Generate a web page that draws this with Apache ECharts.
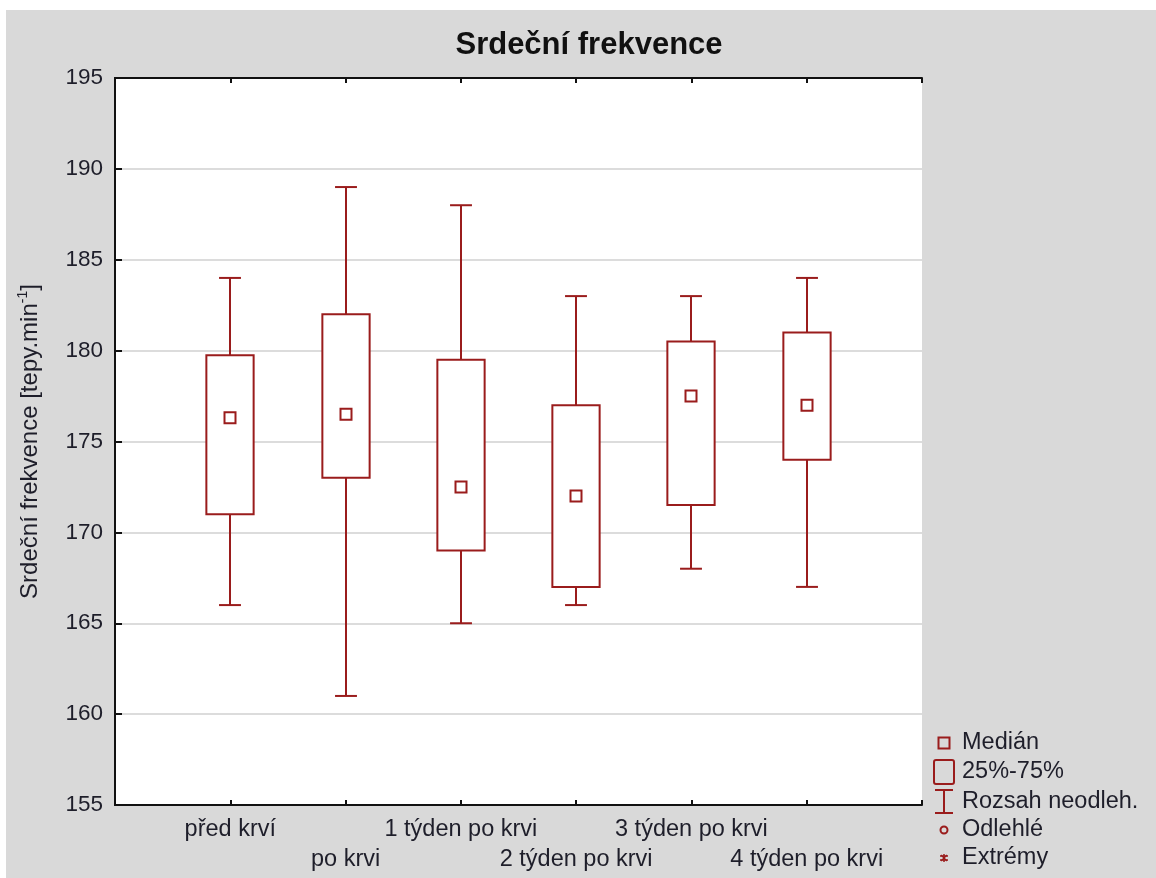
<!DOCTYPE html>
<html>
<head>
<meta charset="utf-8">
<title>Srdeční frekvence</title>
<script src="https://cdn.jsdelivr.net/npm/echarts@6/dist/echarts.min.js"></script>
<style>
  html, body { margin: 0; padding: 0; background: #ffffff; }
  #chart { position: absolute; left: 6px; top: 10px; width: 1150px; height: 868px; }
</style>
</head>
<body>
<div id="chart"></div>
<script>
// Heart-rate measurements, box summary per time point
const categories = ['před krví', 'po krvi', '1 týden po krvi', '2 týden po krvi', '3 týden po krvi', '4 týden po krvi'];
const whiskerLow  = [166, 161, 165, 166, 168, 167];
const quartile1   = [171, 173, 169, 167, 171.5, 174];
const medians     = [176.3, 176.5, 172.5, 172, 177.5, 177];
const quartile3   = [179.75, 182, 179.5, 177, 180.5, 181];
const whiskerHigh = [184, 189, 188, 183, 183, 184];
const yTicks = [155, 160, 165, 170, 175, 180, 185, 190, 195];

const BOX = '#9a1c1c';
const TEXT = '#1e1e2a';
const FRAME = '#111111';
const FONT = 'Arial, "Liberation Sans", sans-serif';

const boxData = categories.map((c, i) => [i + 1, whiskerLow[i], quartile1[i], medians[i], quartile3[i], whiskerHigh[i]]);

function renderBox(params, api) {
  const x = api.value(0);
  const lo = api.coord([x, api.value(1)]);
  const q1 = api.coord([x, api.value(2)]);
  const md = api.coord([x, api.value(3)]);
  const q3 = api.coord([x, api.value(4)]);
  const hi = api.coord([x, api.value(5)]);
  const unit = api.size([1, 0])[0];
  const bw = unit * 0.41;
  const cw = unit * 0.19;
  const cx = Math.round(lo[0]);
  const line = { stroke: BOX, lineWidth: 2 };
  const ms = 11;
  return {
    type: 'group',
    children: [
      { type: 'line', shape: { x1: cx, y1: hi[1], x2: cx, y2: q3[1] }, style: line },
      { type: 'line', shape: { x1: cx, y1: q1[1], x2: cx, y2: lo[1] }, style: line },
      { type: 'line', shape: { x1: cx - cw / 2, y1: hi[1], x2: cx + cw / 2, y2: hi[1] }, style: line },
      { type: 'line', shape: { x1: cx - cw / 2, y1: lo[1], x2: cx + cw / 2, y2: lo[1] }, style: line },
      { type: 'rect', shape: { x: cx - bw / 2, y: q3[1], width: bw, height: q1[1] - q3[1] },
        style: { stroke: BOX, lineWidth: 2, fill: '#ffffff' } },
      { type: 'rect', shape: { x: cx - ms / 2, y: md[1] - ms / 2, width: ms, height: ms },
        style: { stroke: BOX, lineWidth: 2, fill: '#ffffff' } }
    ]
  };
}

// Legend glyphs and captions, placed beside the plot's lower right corner
const LX = 938;
const legendText = ['Medián', '25%-75%', 'Rozsah neodleh.', 'Odlehlé', 'Extrémy'];
const legendY = [733, 762, 792, 820, 848];
const legendGraphics = [
  { type: 'rect', shape: { x: LX - 5.5, y: legendY[0] - 5.5, width: 11, height: 11 },
    style: { stroke: BOX, lineWidth: 2, fill: 'transparent' } },
  { type: 'rect', shape: { x: LX - 10, y: legendY[1] - 12, width: 20, height: 24, r: 2 },
    style: { stroke: BOX, lineWidth: 2, fill: 'transparent' } },
  { type: 'line', shape: { x1: LX, y1: legendY[2] - 12, x2: LX, y2: legendY[2] + 11 }, style: { stroke: BOX, lineWidth: 2 } },
  { type: 'line', shape: { x1: LX - 9, y1: legendY[2] - 12, x2: LX + 9, y2: legendY[2] - 12 }, style: { stroke: BOX, lineWidth: 2 } },
  { type: 'line', shape: { x1: LX - 9, y1: legendY[2] + 11, x2: LX + 9, y2: legendY[2] + 11 }, style: { stroke: BOX, lineWidth: 2 } },
  { type: 'circle', shape: { cx: LX, cy: legendY[3], r: 3.5 }, style: { stroke: BOX, lineWidth: 2, fill: 'transparent' } },
  { type: 'line', shape: { x1: LX, y1: legendY[4] - 4, x2: LX, y2: legendY[4] + 4 }, style: { stroke: BOX, lineWidth: 1.5 } },
  { type: 'line', shape: { x1: LX - 4, y1: legendY[4] - 2, x2: LX + 4, y2: legendY[4] - 2 }, style: { stroke: BOX, lineWidth: 1.5 } },
  { type: 'line', shape: { x1: LX - 4, y1: legendY[4] + 2, x2: LX + 4, y2: legendY[4] + 2 }, style: { stroke: BOX, lineWidth: 1.5 } },
  { type: 'line', shape: { x1: LX - 3, y1: legendY[4] - 3, x2: LX + 3, y2: legendY[4] + 3 }, style: { stroke: BOX, lineWidth: 1.2 } },
  { type: 'line', shape: { x1: LX + 3, y1: legendY[4] - 3, x2: LX - 3, y2: legendY[4] + 3 }, style: { stroke: BOX, lineWidth: 1.2 } }
].concat(legendText.map((t, i) => ({
  type: 'text', x: 956, y: legendY[i],
  style: { text: t, font: '23.5px ' + FONT, fill: TEXT, verticalAlign: 'middle', align: 'left' }
})));

const frameLine = { show: true, lineStyle: { color: FRAME, width: 2 } };
const frameTick = { show: true, inside: true, length: 5, lineStyle: { color: FRAME, width: 2 } };

const chart = echarts.init(document.getElementById('chart'), null, { renderer: 'canvas' });
chart.setOption({
  backgroundColor: '#d9d9d9',
  animation: false,
  title: {
    text: 'Srdeční frekvence',
    left: 578,
    textAlign: 'center',
    top: 15,
    textStyle: { fontFamily: FONT, fontSize: 31, fontWeight: 'bold', color: '#111' }
  },
  grid: {
    left: 109, top: 68, right: 234, bottom: 73,
    show: true, backgroundColor: '#ffffff', borderWidth: 0
  },
  xAxis: [{
    type: 'value', min: 0, max: 7, interval: 1, position: 'bottom',
    axisLine: frameLine,
    axisTick: frameTick,
    splitLine: { show: false },
    axisLabel: {
      margin: 10, lineHeight: 30, fontFamily: FONT, fontSize: 23.5, color: TEXT,
      formatter: v => (v >= 1 && v <= categories.length) ? ((v % 2 === 0 ? '\n' : '') + categories[v - 1]) : ''
    }
  }, {
    type: 'value', min: 0, max: 7, interval: 1, position: 'top',
    axisLine: frameLine,
    axisTick: frameTick,
    splitLine: { show: false },
    axisLabel: { show: false }
  }],
  yAxis: [{
    type: 'value', min: yTicks[0], max: yTicks[yTicks.length - 1], interval: 5, position: 'left',
    axisLine: frameLine,
    axisTick: { show: true, inside: true, length: 7, lineStyle: { color: FRAME, width: 2 } },
    splitLine: { show: true, lineStyle: { color: '#dcdcdc', width: 2 } },
    axisLabel: { margin: 12, fontFamily: FONT, fontSize: 22.5, color: TEXT },
    name: '{a|Srdeční frekvence [tepy.min}{s|-1}{a|]}',
    nameLocation: 'middle', nameRotate: 90, nameGap: 71,
    nameTextStyle: {
      rich: {
        a: { fontFamily: FONT, fontSize: 24, color: TEXT, lineHeight: 28 },
        s: { fontFamily: FONT, fontSize: 14, color: TEXT, lineHeight: 28, verticalAlign: 'top', padding: [0, 0, 12, 0] }
      }
    }
  }, {
    type: 'value', min: yTicks[0], max: yTicks[yTicks.length - 1], interval: 5, position: 'right',
    axisLine: frameLine,
    axisTick: { show: false },
    splitLine: { show: false },
    axisLabel: { show: false }
  }],
  graphic: legendGraphics,
  series: [{
    type: 'custom',
    renderItem: renderBox,
    encode: { x: 0, y: [1, 2, 3, 4, 5] },
    data: boxData,
    clip: false
  }]
});
</script>
</body>
</html>
